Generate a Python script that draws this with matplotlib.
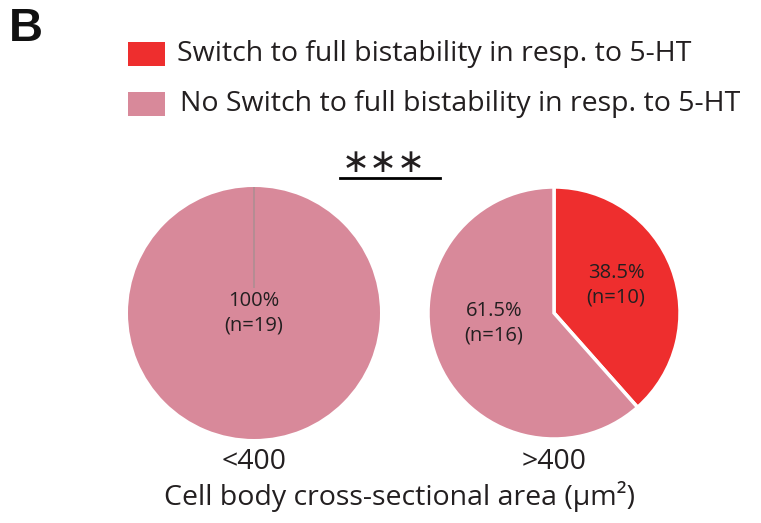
import matplotlib
matplotlib.use("Agg")
import matplotlib.pyplot as plt

# ---- data ----
groups = ["<400", ">400"]
switch_counts = [0, 10]
no_switch_counts = [19, 16]
legend_labels = ["Switch to full bistability in resp. to 5-HT",
                 "No Switch to full bistability in resp. to 5-HT"]
xlabel = "Cell body cross-sectional area (μm²)"
signif = "∗∗∗"

RED = "#EE2E2E"
PINK = "#D8899A"
TXT = "#231F20"

W, H = 761, 523
fig = plt.figure(figsize=(W / 100, H / 100), dpi=100)
ax = fig.add_axes([0, 0, 1, 1])
FONT = "Open Sans"

def py(y):
    return H - y

centers = [(254, py(313)), (554, py(313))]
R = 126

for i, (c, s, n) in enumerate(zip(centers, switch_counts, no_switch_counts)):
    if s == 0:
        wedges, _ = ax.pie([s, n], colors=[RED, PINK], startangle=90, counterclock=False,
                           center=c, radius=R, frame=True,
                           wedgeprops=dict(linewidth=0))
        wedges[0].set_edgecolor("#9a8f8f")
        wedges[0].set_linewidth(0.8)
        wedges[0].set_zorder(5)
    else:
        ax.pie([s, n], colors=[RED, PINK], startangle=90, counterclock=False,
               center=c, radius=R, frame=True, explode=[0.035, 0],
               wedgeprops=dict(edgecolor="white", linewidth=2.5))

LFS = 14.5
tot0 = switch_counts[0] + no_switch_counts[0]
ax.text(254, py(313), f"{100*no_switch_counts[0]/tot0:.0f}%\n(n={no_switch_counts[0]})",
        ha="center", va="center", fontsize=LFS, family=FONT, color=TXT, linespacing=1.3,
        zorder=10, bbox=dict(boxstyle="square,pad=0.15", facecolor=PINK, edgecolor="none"))
tot1 = switch_counts[1] + no_switch_counts[1]
ax.text(494, py(323), f"{100*no_switch_counts[1]/tot1:.1f}%\n(n={no_switch_counts[1]})",
        ha="center", va="center", fontsize=LFS, family=FONT, color=TXT, linespacing=1.3)
ax.text(616, py(285), f"{100*switch_counts[1]/tot1:.1f}%\n(n={switch_counts[1]})",
        ha="center", va="center", fontsize=LFS, family=FONT, color=TXT, linespacing=1.3)

BFS = 20.5
for c, g in zip(centers, groups):
    ax.text(c[0], py(462), g, ha="center", va="center", fontsize=BFS, family=FONT, color=TXT)
ax.text(400, py(497), xlabel, ha="center", va="center", fontsize=BFS, family=FONT, color=TXT)

# legend
ax.add_patch(plt.Rectangle((128, py(66)), 37, 24, color=RED, lw=0))
ax.add_patch(plt.Rectangle((128, py(116)), 37, 24, color=PINK, lw=0))
ax.text(177, py(54), legend_labels[0], ha="left", va="center", fontsize=BFS, family=FONT, color=TXT)
ax.text(180, py(104), legend_labels[1], ha="left", va="center", fontsize=BFS, family=FONT, color=TXT)

# significance
ax.plot([340, 440], [py(178), py(178)], color="black", lw=2)
ax.text(384, py(162), signif, ha="center", va="center", fontsize=24, family="DejaVu Sans", color=TXT)

# panel letter
ax.text(9, py(29), "B", ha="left", va="center", fontsize=34, fontweight="bold",
        family="Liberation Sans", color="#111111")

ax.set_xlim(0, W)
ax.set_ylim(0, H)
ax.set_aspect("equal")
ax.axis("off")
fig.savefig("out.png", dpi=100)
